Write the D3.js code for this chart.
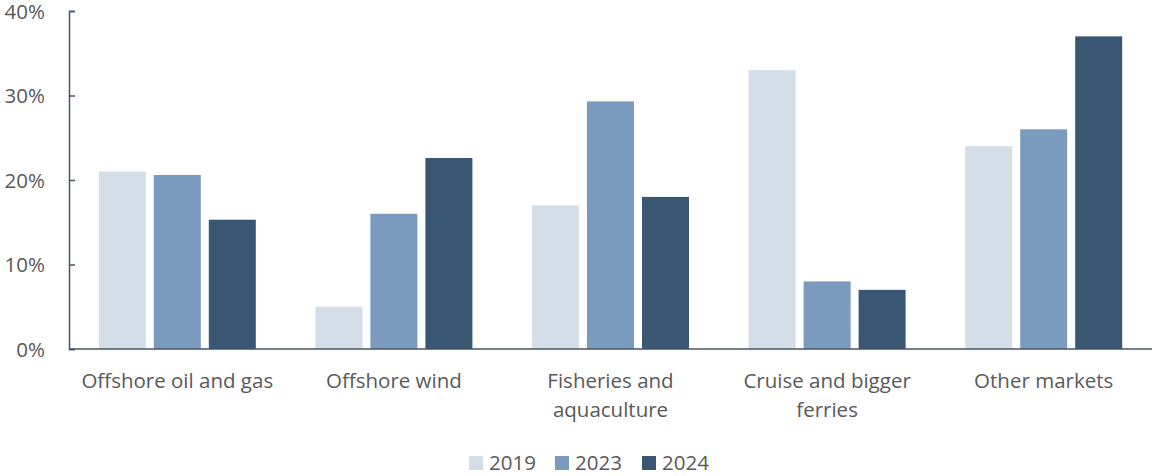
<!DOCTYPE html>
<html><head><meta charset="utf-8">
<script src="https://cdn.jsdelivr.net/npm/d3@7"></script>
<style>body{margin:0;background:#fff}text{font-family:"Open Sans",sans-serif;fill:#595959}</style>
</head><body><svg id="c" width="1153" height="476"></svg>
<script>
const categories = [["Offshore oil and gas"],["Offshore wind"],["Fisheries and","aquaculture"],["Cruise and bigger","ferries"],["Other markets"]];
const seriesNames = ["2019","2023","2024"];
const v2019 = [21, 5, 17, 33, 24];
const v2023 = [20.6, 16, 29.3, 8, 26];
const v2024 = [15.3, 22.6, 18, 7, 37];
const yTicks = [0, 10, 20, 30, 40];
const colors = ["#d4dee9", "#7a9bbd", "#395673"];
const series = [v2019, v2023, v2024];

(function(){
const svg = d3.select("#c");
const mLeft = 69, mRight = 1152, mTop = 11, mBottom = 349;
const fs = "20.5px";
const x = d3.scaleBand().domain(d3.range(categories.length)).range([mLeft, mRight]).paddingInner(0).paddingOuter(0);
const y = d3.scaleLinear().domain([0, 40]).range([mBottom, mTop]);
const barW = 47, gap = 8;

series.forEach((vals, si) => {
  svg.append("g").selectAll("rect").data(vals).join("rect")
    .attr("x", (d, i) => x(i) + x.bandwidth()/2 - 1.5*barW - gap + si*(barW+gap))
    .attr("width", barW)
    .attr("y", d => y(d))
    .attr("height", d => y(0) - y(d))
    .attr("fill", colors[si]);
});

const yAxis = svg.append("g").attr("transform", `translate(${mLeft},0)`)
  .call(d3.axisRight(y).tickValues(yTicks).tickSize(6).tickFormat(d => d + "%"));
yAxis.select(".domain").attr("stroke", "#44546a").attr("stroke-width", 1.5);
yAxis.selectAll(".tick line").attr("stroke", "#44546a").attr("stroke-width", 1.5);
yAxis.selectAll(".tick text").attr("x", -24).attr("text-anchor", "end").attr("dy", "0.36em")
  .attr("fill", "#595959").style("font-size", fs);

svg.append("line").attr("x1", mLeft).attr("x2", mRight).attr("y1", mBottom).attr("y2", mBottom)
  .attr("stroke", "#44546a").attr("stroke-width", 1.5);

const lab = svg.append("g").selectAll("text").data(categories).join("text")
  .attr("text-anchor", "middle")
  .attr("x", (d, i) => x(i) + x.bandwidth()/2)
  .attr("y", 388)
  .style("font-size", fs);
lab.selectAll("tspan").data(d => d).join("tspan")
  .attr("x", function(){ return this.parentNode.getAttribute("x"); })
  .attr("dy", (d, i) => i === 0 ? 0 : 29)
  .text(d => d);

const lg = svg.append("g");
const lx = [469, 555, 642];
seriesNames.forEach((s, i) => {
  lg.append("rect").attr("x", lx[i]).attr("y", 456).attr("width", 14).attr("height", 14).attr("fill", colors[i]);
  lg.append("text").attr("x", lx[i] + 20).attr("y", 470).style("font-size", fs).text(s);
});
})();
</script></body></html>
